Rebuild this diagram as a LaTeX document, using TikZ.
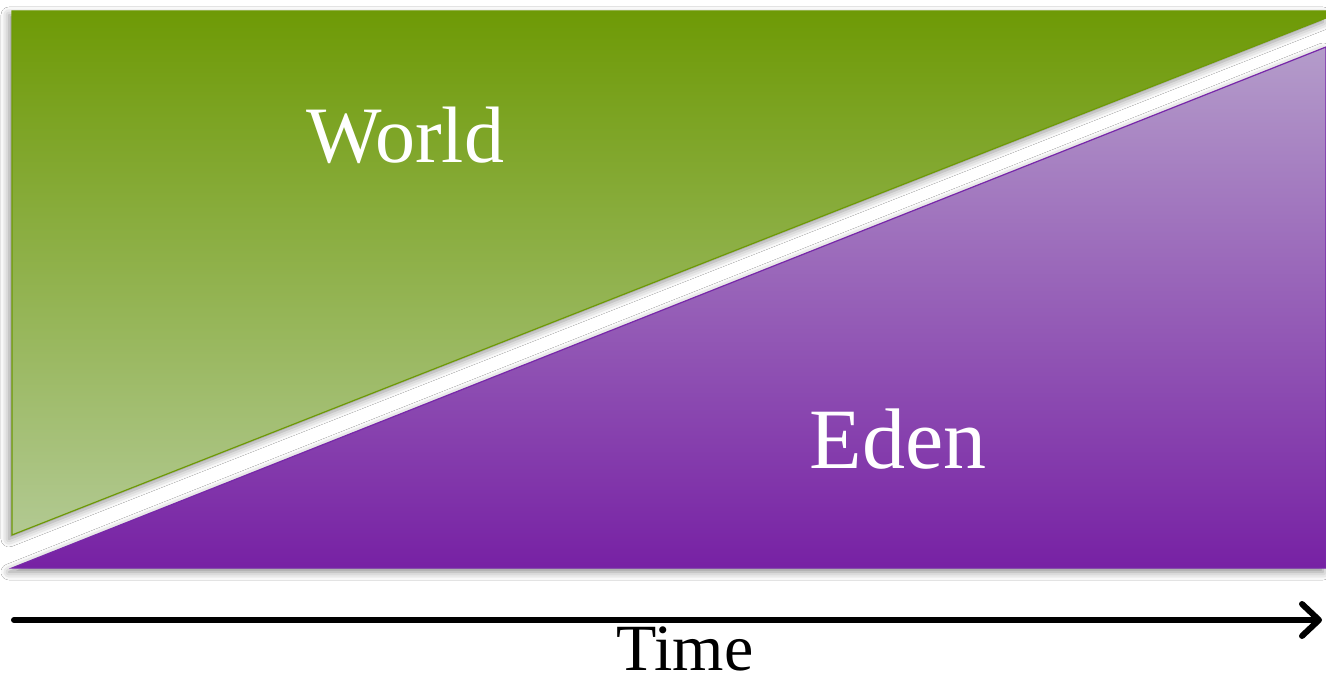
\documentclass[tikz,border=0pt]{standalone}
\usepackage{fontspec}
\setmainfont{Liberation Serif}
\usetikzlibrary{arrows.meta,shadows.blur}
\definecolor{gtop}{RGB}{110,154,6}
\definecolor{gbot}{RGB}{178,201,146}
\definecolor{gedge}{RGB}{110,154,6}
\definecolor{ptop}{RGB}{180,156,202}
\definecolor{pbot}{RGB}{119,33,164}
\definecolor{pedge}{RGB}{120,40,170}
\tikzset{
  tri/.style={blur shadow={shadow xshift=-3pt,shadow yshift=-4pt,shadow blur radius=8pt,shadow opacity=45}},
  lbl/.style={anchor=base,inner sep=0pt,font=\fontsize{84}{90}\selectfont},
}
\begin{document}
\begin{tikzpicture}[x=1pt,y=1pt]
\useasboundingbox (0,0) rectangle (1326,681);
\fill[white] (0,0) rectangle (1326,681);
% green triangle
\path[tri,top color=gtop,bottom color=gbot,draw=gedge,line width=1.2pt]
  (12,670) -- (1326,670) -- (1326,663) -- (12,146) -- cycle;
% purple triangle
\path[tri,top color=ptop,bottom color=pbot,draw=pedge,line width=1.2pt]
  (12,113) -- (1326,113) -- (1326,634) -- cycle;
\node[lbl,text=white,font=\fontsize{80}{86}\selectfont] (world) at (405,518) {World};
\node[lbl,text=white,font=\fontsize{86}{92}\selectfont] (eden) at (898,213) {Eden};
\node[lbl,font=\fontsize{66}{70}\selectfont] (time) at (685,11) {Time};
\coordinate (a0) at (14,61);
\coordinate (a1) at (1322,61);
\draw[line width=6pt,line cap=round,-{Straight Barb[length=17pt,width=32pt,line cap=round,line join=round]}] (a0) -- (a1);
\end{tikzpicture}
\end{document}
